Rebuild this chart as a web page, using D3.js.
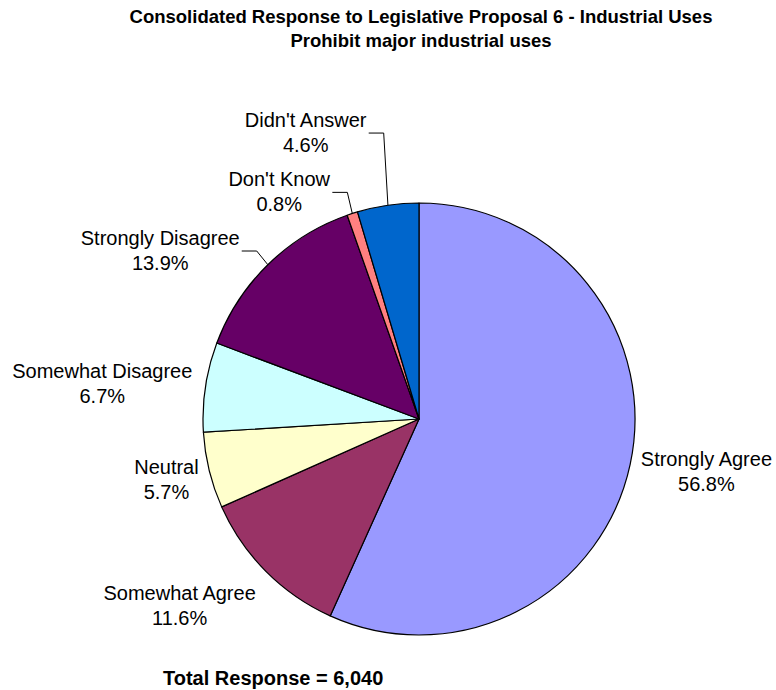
<!DOCTYPE html>
<html>
<head>
<meta charset="utf-8">
<script src="https://cdn.jsdelivr.net/npm/d3@7"></script>
<style>
  html, body { margin: 0; padding: 0; background: #fff; }
  svg { display: block; font-family: "Liberation Sans", Arial, sans-serif; }
</style>
</head>
<body>
<div id="chart"></div>
<script>
// ---- data ----
const categories = ["Strongly Agree", "Somewhat Agree", "Neutral", "Somewhat Disagree",
                    "Strongly Disagree", "Don't Know", "Didn't Answer"];
const percents = [56.8, 11.6, 5.7, 6.7, 13.9, 0.8, 4.6];
const colors = ["#9999FF", "#993366", "#FFFFCC", "#CCFFFF", "#660066", "#FF8080", "#0066CC"];
const titleLines = ["Consolidated Response to Legislative Proposal 6 - Industrial Uses",
                    "Prohibit major industrial uses"];
const footnote = "Total Response = 6,040";

// ---- layout (label nudges from the default polar spot, leader flags) ----
const labelNudge = [[0, -10], [-31, -21], [33, -10], [-26, 8], [-53, 41], [-49, 52], [-71, 4]];
const hasLeader = [false, false, false, false, true, true, true];

const W = 776, H = 690;
const cx = 419, cy = 419, R = 216, labelR = 294;

const svg = d3.select("#chart").append("svg").attr("width", W).attr("height", H);

// title
svg.append("g").selectAll("text").data(titleLines).join("text")
  .attr("x", 421).attr("y", (d, i) => 23 + i * 24)
  .attr("text-anchor", "middle")
  .attr("font-weight", "bold").attr("font-size", "18.5px").attr("fill", "#000")
  .text(d => d);

const data = categories.map((c, i) => ({ cat: c, pct: percents[i], color: colors[i], i }));

const pie = d3.pie().value(d => d.pct).sort(null);
const arcs = pie(data);
const arc = d3.arc().innerRadius(0).outerRadius(R);

const g = svg.append("g").attr("transform", `translate(${cx},${cy})`);
g.selectAll("path").data(arcs).join("path")
  .attr("d", arc)
  .attr("fill", d => d.data.color)
  .attr("stroke", "#000").attr("stroke-width", 1.2).attr("stroke-linejoin", "round");

// labels
const lab = svg.append("g").attr("font-size", "20px").attr("fill", "#000");
arcs.forEach((a, k) => {
  const mid = (a.startAngle + a.endAngle) / 2;
  const dx = Math.sin(mid), dy = -Math.cos(mid);
  const lx = cx + labelR * dx + labelNudge[k][0];
  const ly = cy + labelR * dy + labelNudge[k][1];
  const t = lab.append("text").attr("text-anchor", "middle");
  t.append("tspan").attr("x", lx).attr("y", ly - 5).text(a.data.cat);
  t.append("tspan").attr("x", lx).attr("y", ly + 20).text(a.data.pct.toFixed(1) + "%");
  if (hasLeader[k]) {
    const w = t.node().getBBox().width;
    const x0 = lx + w / 2 + 2, y0 = ly + 1;
    const ex = cx + R * dx, ey = cy + R * dy;
    svg.append("polyline")
      .attr("points", `${x0},${y0} ${x0 + 15},${y0} ${ex},${ey}`)
      .attr("fill", "none").attr("stroke", "#000").attr("stroke-width", 1);
  }
});

// footnote
svg.append("text").attr("x", 163).attr("y", 685)
  .attr("font-weight", "bold").attr("font-size", "20px").attr("fill", "#000")
  .text(footnote);
</script>
</body>
</html>
